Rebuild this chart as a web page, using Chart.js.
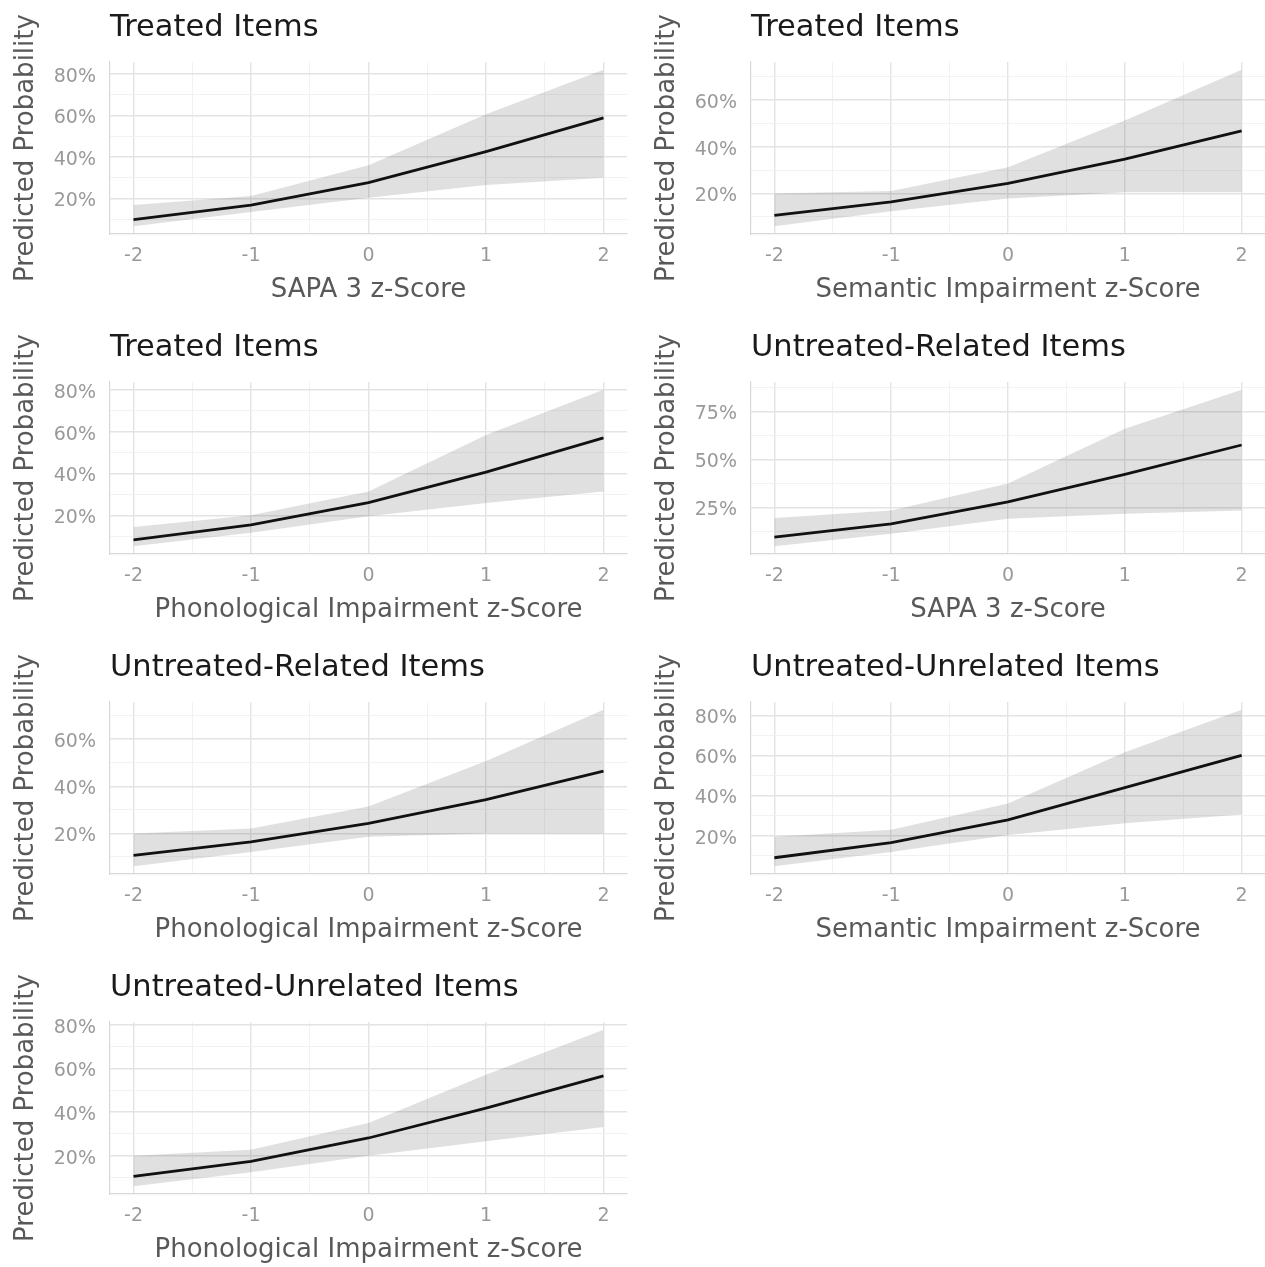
<!DOCTYPE html>
<html>
<head>
<meta charset="utf-8">
<title>Predicted Probability by z-Score</title>
<script src="https://cdn.jsdelivr.net/npm/chart.js@4.4.1/dist/chart.umd.min.js"></script>
<style>
    body { margin: 0; background: #ffffff; overflow: hidden; }
    #grid { position: relative; width: 1265px; height: 1267px; }
    .panel { position: absolute; }
</style>
</head>
<body>
<div id="grid"></div>
<script>
// z-score values used on every x axis
const zScores = [-2, -1, 0, 1, 2];

// Panel titles and x axis titles (reading order: left to right, top to bottom)
const panelTitles = [
    'Treated Items', 'Treated Items',
    'Treated Items', 'Untreated-Related Items',
    'Untreated-Related Items', 'Untreated-Unrelated Items',
    'Untreated-Unrelated Items'
];
const xTitles = [
    'SAPA 3 z-Score', 'Semantic Impairment z-Score',
    'Phonological Impairment z-Score', 'SAPA 3 z-Score',
    'Phonological Impairment z-Score', 'Semantic Impairment z-Score',
    'Phonological Impairment z-Score'
];
const xTickLabels = [-2, -1, 0, 1, 2];

// Predicted probability (%) - fitted line
const fitted = [
    [9.8, 16.8, 27.6, 42.6, 58.8],
    [10.6, 16.4, 24.3, 34.7, 46.8],
    [8.2, 15.4, 26.0, 40.6, 57.0],
    [9.6, 16.5, 27.9, 42.2, 57.5],
    [10.7, 16.4, 24.3, 34.3, 46.4],
    [9.0, 16.5, 27.9, 43.9, 60.0],
    [10.5, 17.4, 28.1, 41.8, 56.6]
];

// Upper and lower bounds of the confidence ribbon (%)
const upperBound = [
    [16.8, 21.2, 36.0, 60.6, 82.0],
    [20.0, 21.0, 31.2, 51.2, 72.9],
    [14.4, 20.0, 31.4, 58.4, 80.0],
    [19.5, 23.5, 37.5, 65.9, 86.2],
    [20.0, 22.1, 31.4, 50.7, 72.4],
    [19.5, 22.9, 36.0, 61.6, 82.7],
    [20.0, 22.7, 35.0, 57.1, 77.7]
];
const lowerBound = [
    [6.6, 13.4, 20.3, 26.5, 30.0],
    [6.0, 12.4, 17.8, 20.5, 20.5],
    [5.2, 11.6, 19.5, 25.9, 31.4],
    [4.9, 11.3, 19.2, 21.8, 23.5],
    [6.1, 12.1, 18.6, 20.0, 20.0],
    [4.8, 11.9, 20.3, 26.2, 30.5],
    [6.0, 12.4, 20.0, 26.6, 33.1]
];

// Labelled y ticks for each panel (%)
const yTickLabels = [
    [20, 40, 60, 80],
    [20, 40, 60],
    [20, 40, 60, 80],
    [25, 50, 75],
    [20, 40, 60],
    [20, 40, 60, 80],
    [20, 40, 60, 80]
];

Chart.defaults.font.family = '"DejaVu Sans", sans-serif';

// Function to check if a tick value is one of the labelled ones
function isMajor(value, majors) {
    return majors.some(m => Math.abs(m - value) < 1e-6);
}

// Function to turn a value array into {x, y} points
function toPoints(values) {
    return zScores.map((z, i) => ({ x: z, y: values[i] }));
}

// Function to build one panel
function drawPanel(i) {
    const col = i % 2;
    const row = Math.floor(i / 2);
    const width = col === 0 ? 632 : 624;
    const height = 320;

    const holder = document.createElement('div');
    holder.className = 'panel';
    holder.style.left = (col === 0 ? 0 : 641) + 'px';
    holder.style.top = (row * 320) + 'px';
    const canvas = document.createElement('canvas');
    canvas.width = width;
    canvas.height = height;
    holder.appendChild(canvas);
    document.getElementById('grid').appendChild(holder);

    // y limits like ggplot: ribbon range plus 5% each side
    const lo = Math.min(...lowerBound[i]);
    const hi = Math.max(...upperBound[i]);
    const pad = (hi - lo) * 0.05;
    const majors = yTickLabels[i];
    const yStep = (majors[1] - majors[0]) / 2;

    const xMajor = xTickLabels;
    const gridColor = (isMaj) => isMaj ? '#e3e3e3' : '#f0f0f0';
    const gridWidth = (isMaj) => isMaj ? 1.4 : 0.9;

    new Chart(canvas.getContext('2d'), {
        type: 'line',
        data: {
            datasets: [
                {
                    label: 'Predicted',
                    data: toPoints(fitted[i]),
                    borderColor: '#111111',
                    borderWidth: 2.8,
                    pointRadius: 0,
                    fill: false,
                    tension: 0
                },
                {
                    label: 'Upper',
                    data: toPoints(upperBound[i]),
                    borderWidth: 0,
                    pointRadius: 0,
                    backgroundColor: 'rgba(70, 70, 70, 0.17)',
                    fill: '+1',
                    tension: 0
                },
                {
                    label: 'Lower',
                    data: toPoints(lowerBound[i]),
                    borderWidth: 0,
                    pointRadius: 0,
                    fill: false,
                    tension: 0
                }
            ]
        },
        options: {
            responsive: false,
            animation: false,
            layout: { padding: { top: 0, left: 0, bottom: 0, right: col === 0 ? 5 : 0 } },
            plugins: {
                legend: { display: false },
                tooltip: { enabled: false },
                title: {
                    display: true,
                    text: panelTitles[i],
                    align: 'start',
                    fullSize: false,
                    color: '#1a1a1a',
                    font: { size: 30.5, weight: 'normal' },
                    padding: { top: 10, bottom: 15.4 }
                }
            },
            scales: {
                x: {
                    type: 'linear',
                    min: -2.2,
                    max: 2.2,
                    afterFit: (scale) => { scale.height = 86; },
                    border: { display: true, color: '#d8d8d8', width: 1.2 },
                    grid: {
                        drawTicks: false,
                        color: (c) => gridColor(isMajor(c.tick.value, xMajor)),
                        lineWidth: (c) => gridWidth(isMajor(c.tick.value, xMajor))
                    },
                    ticks: {
                        stepSize: 0.5,
                        includeBounds: false,
                        autoSkip: false,
                        maxRotation: 0,
                        padding: 11,
                        color: '#999999',
                        font: { size: 19 },
                        callback: (v) => isMajor(v, xMajor) ? String(v) : ''
                    },
                    title: {
                        display: true,
                        text: xTitles[i],
                        color: '#595959',
                        font: { size: 26 },
                        padding: { top: 0, bottom: 14 }
                    }
                },
                y: {
                    type: 'linear',
                    min: lo - pad,
                    max: hi + pad,
                    afterFit: (scale) => { scale.width = 110; },
                    border: { display: true, color: '#d8d8d8', width: 1.2 },
                    grid: {
                        drawTicks: false,
                        color: (c) => gridColor(isMajor(c.tick.value, majors)),
                        lineWidth: (c) => gridWidth(isMajor(c.tick.value, majors))
                    },
                    ticks: {
                        stepSize: yStep,
                        includeBounds: false,
                        autoSkip: false,
                        padding: 14,
                        labelOffset: 3,
                        color: '#999999',
                        font: { size: 19 },
                        callback: (v) => isMajor(v, majors) ? v + '%' : ''
                    },
                    title: {
                        display: true,
                        text: 'Predicted Probability',
                        color: '#595959',
                        font: { size: 26 },
                        padding: { top: 11, bottom: 0 }
                    }
                }
            }
        }
    });
}

// Draw all seven panels
for (let i = 0; i < panelTitles.length; i++) {
    drawPanel(i);
}
</script>
</body>
</html>
